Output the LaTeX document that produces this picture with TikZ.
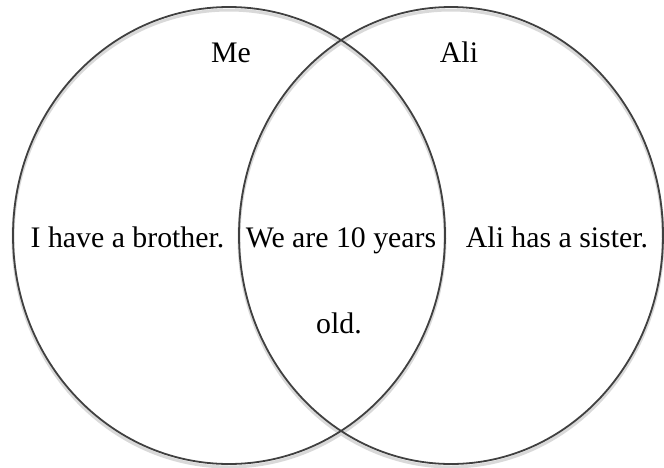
\documentclass[tikz,border=0pt]{standalone}
\usepackage{fontspec}
\setmainfont{Liberation Serif}
\begin{document}
\begin{tikzpicture}[x=1pt,y=-1pt,
  ring/.style={draw=black!75, line width=1.8pt},
  ringshadow/.style={draw=black!15, line width=3pt},
  lbl/.style={font=\fontsize{29.8}{35}\selectfont, anchor=base, inner sep=0pt}]
\useasboundingbox (0,0) rectangle (664,467);
% shadows
\draw[ringshadow] (229,238.5) ellipse [x radius=216, y radius=228.5];
\draw[ringshadow] (451,238.5) ellipse [x radius=212, y radius=228.5];
% circles
\draw[ring] (229,235.5) ellipse [x radius=216, y radius=228.5];
\draw[ring] (451,235.5) ellipse [x radius=212, y radius=228.5];
% labels
\node[lbl] (me) at (231,62) {Me};
\node[lbl] (ali) at (459,62) {Ali};
\node[lbl] (left) at (127.5,247) {I have a brother.};
\node[lbl] (mid1) at (341,247) {We are 10 years};
\node[lbl] (mid2) at (339,333) {old.};
\node[lbl] (right) at (557,247) {Ali has a sister.};
\end{tikzpicture}
\end{document}
